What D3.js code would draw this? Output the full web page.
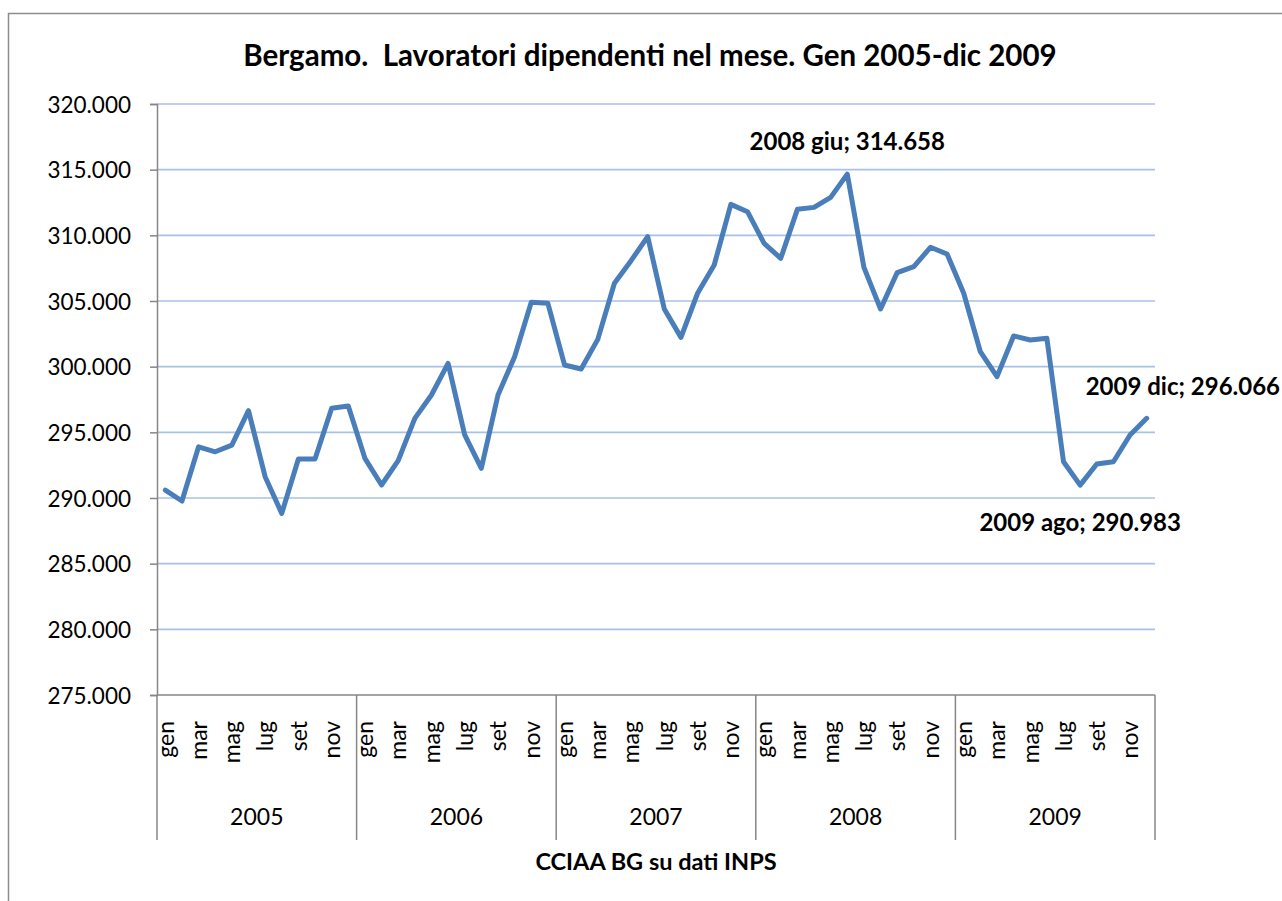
<!DOCTYPE html>
<html>
<head>
  <meta charset="utf-8">
<script src="https://d3js.org/d3.v7.min.js"></script>
<style type="text/css">
	body { margin: 0; background: #fff; }
	text { font-family: Lato, "Open Sans", sans-serif; fill: #000; }
</style>
  <script>
	// dati mensili lavoratori dipendenti, gen 2005 - dic 2009
	var months = [ "gen","feb","mar","apr","mag","giu","lug","ago","set","ott","nov","dic" ];
	var years = [ "2005","2006","2007","2008","2009" ];
	var workers = [
		290600, 289770, 293900, 293520, 294030, 296650, 291620, 288830, 292970, 292970, 296830, 297000,
		293020, 290990, 292840, 296060, 297840, 300250, 294800, 292260, 297840, 300760, 304900, 304820,
		300130, 299820, 302080, 306350, 308070, 309900, 304390, 302230, 305590, 307740, 312360, 311800,
		309390, 308250, 311980, 312130, 312890, 314658, 307560, 304390, 307160, 307610, 309090, 308580,
		305590, 301140, 299240, 302340, 302030, 302160, 292760, 290983, 292590, 292760, 294800, 296066
	];
	var yTicks = [ 275000, 280000, 285000, 290000, 295000, 300000, 305000, 310000, 315000, 320000 ];
	var shownMonths = [ "gen","mar","mag","lug","set","nov" ];
	var labelled = [ 41, 55, 59 ];   // giu 2008, ago 2009, dic 2009
	var title = "Bergamo.  Lavoratori dipendenti nel mese. Gen 2005-dic 2009";
	var axisTitle = "CCIAA BG su dati INPS";

  	function makeChart(){
  		var it = d3.formatLocale({ decimal: ",", thousands: ".", grouping: [3], currency: ["", ""] });
  		var fmt = it.format(",d");

	    var svg = d3.select( "#chart" ).attr( "width", 1282 ).attr( "height", 901 );

	    // cornice esterna
	    svg.append( "rect" ).attr( "x", 8.5 ).attr( "y", 13.5 ).attr( "width", 1300 ).attr( "height", 920 )
	        .attr( "fill", "none" ).attr( "stroke", "#8c8c8c" ).attr( "stroke-width", 1.5 );

	    var cats = d3.range( workers.length );
	    var scX = d3.scaleBand().domain( cats ).range( [157,1155] );
	    var scY = d3.scaleLinear().domain( [275000,320000] ).range( [695,104] );
	    var px = i => scX(i) + scX.bandwidth()/2;

	    // griglia
	    svg.append( "g" ).selectAll( "line" ).data( yTicks.slice(1) ).enter().append( "line" )
	        .attr( "x1", 157 ).attr( "x2", 1155 )
	        .attr( "y1", d=>scY(d) ).attr( "y2", d=>scY(d) )
	        .attr( "stroke", "#a9c1e6" ).attr( "stroke-width", 1.6 );

	    // asse y
	    var yAxis = d3.axisLeft( scY ).tickValues( yTicks ).tickFormat( fmt ).tickSize( 7 ).tickPadding( 19 );
	    var gy = svg.append( "g" ).attr( "transform", "translate(157,0)" ).call( yAxis );
	    gy.select( ".domain" ).attr( "stroke", "#868686" ).attr( "stroke-width", 1.5 );
	    gy.selectAll( ".tick line" ).attr( "stroke", "#868686" ).attr( "stroke-width", 1.5 );
	    gy.selectAll( ".tick text" ).style( "font-size", "22.5px" ).attr( "fill", "#000" )
	        .style( "font-family", "Lato" ).attr( "dy", "0.36em" );

	    // asse x
	    svg.append( "line" ).attr( "x1", 157 ).attr( "x2", 1155 ).attr( "y1", 695 ).attr( "y2", 695 )
	        .attr( "stroke", "#868686" ).attr( "stroke-width", 1.5 );
	    var scYear = d3.scaleBand().domain( years ).range( [157,1155] );
	    var bounds = years.map( y=>scYear(y) ).concat( [1155] );
	    svg.append( "g" ).selectAll( "line" ).data( bounds ).enter().append( "line" )
	        .attr( "x1", d=>d ).attr( "x2", d=>d ).attr( "y1", 695 ).attr( "y2", 840 )
	        .attr( "stroke", "#868686" ).attr( "stroke-width", 1.5 );

	    var monthCats = cats.filter( i => shownMonths.indexOf( months[i%12] ) >= 0 );
	    svg.append( "g" ).selectAll( "text" ).data( monthCats ).enter().append( "text" )
	        .attr( "transform", d=>"translate(" + px(d) + ",721) rotate(-90)" )
	        .attr( "text-anchor", "end" ).attr( "dy", "0.36em" )
	        .style( "font-size", "23px" )
	        .text( d=>months[d%12] );

	    svg.append( "g" ).selectAll( "text" ).data( years ).enter().append( "text" )
	        .attr( "x", d=>scYear(d) + scYear.bandwidth()/2 ).attr( "y", 825 )
	        .attr( "text-anchor", "middle" ).style( "font-size", "23px" )
	        .text( d=>d );

	    // serie
	    var line = d3.line().x( (d,i)=>px(i) ).y( d=>scY(d) );
	    svg.append( "path" ).datum( workers ).attr( "d", line )
	        .attr( "fill", "none" ).attr( "stroke", "#4a7ebb" ).attr( "stroke-width", 5 )
	        .attr( "stroke-linejoin", "round" ).attr( "stroke-linecap", "round" );

	    // etichette dati
	    var off = { 41: [0, -33, "middle"], 55: [0, 37, "middle"], 59: [-61, -32, "start"] };
	    svg.append( "g" ).selectAll( "text" ).data( labelled ).enter().append( "text" )
	        .attr( "x", d=>px(d) + off[d][0] ).attr( "y", d=>scY(workers[d]) + off[d][1] )
	        .attr( "text-anchor", d=>off[d][2] ).attr( "dy", "0.36em" )
	        .style( "font-size", "24px" ).style( "font-weight", "bold" )
	        .text( d=>years[Math.floor(d/12)] + " " + months[d%12] + "; " + fmt( workers[d] ) );

	    // titoli
	    svg.append( "text" ).attr( "x", 650 ).attr( "y", 55 ).attr( "dy", "0.36em" )
	        .attr( "text-anchor", "middle" ).style( "font-size", "29.5px" ).style( "font-weight", "bold" )
	        .style( "white-space", "pre" ).attr( "xml:space", "preserve" )
	        .text( title );
	    svg.append( "text" ).attr( "x", 656 ).attr( "y", 862 ).attr( "dy", "0.36em" )
	        .attr( "text-anchor", "middle" ).style( "font-size", "23.5px" ).style( "font-weight", "bold" )
	        .text( axisTitle );
	}
  </script>
</head>

<body onload="makeChart()">
	<svg id="chart"></svg>
</body>
</html>
